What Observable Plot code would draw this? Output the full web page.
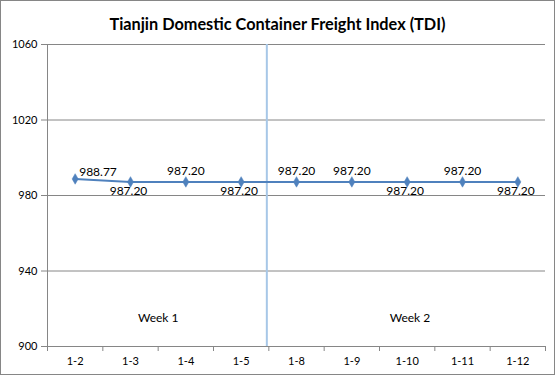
<!DOCTYPE html>
<html>
<head>
<meta charset="utf-8">
<script src="https://cdn.jsdelivr.net/npm/d3@7"></script>
<script src="https://cdn.jsdelivr.net/npm/@observablehq/plot@0.6"></script>
<style>
  html, body { margin: 0; padding: 0; background: #fff; }
  #wrap { width: 553px; height: 373px; border: 1px solid #868686; position: relative; overflow: hidden; font-family: Lato, "Open Sans", sans-serif; }
  #title { height: 34px; line-height: 45px; text-align: center; font-weight: bold; font-size: 16.3px; color: #000; }
  svg { display: block; }
</style>
</head>
<body>
<div id="wrap">
  <div id="title">Tianjin Domestic Container Freight Index (TDI)</div>
  <div id="chart"></div>
</div>
<script>
const dates = ["1-2", "1-3", "1-4", "1-5", "1-8", "1-9", "1-10", "1-11", "1-12"];
const values = [988.77, 987.20, 987.20, 987.20, 987.20, 987.20, 987.20, 987.20, 987.20];
const labelPlacement = ["right", "below", "above", "below", "above", "above", "below", "above", "below"];
const yTicks = [900, 940, 980, 1020, 1060];
const weeks = ["Week 1", "Week 2"];
const weekDays = [4, 5];

const data = dates.map((d, i) => ({date: d, i: i + 0.5, value: values[i], place: labelPlacement[i]}));
const weekBoundary = weekDays[0];
const weekLabels = weeks.map((w, k) => ({
  name: w,
  x: k === 0 ? weekBoundary / 2 : weekBoundary + weekDays[1] / 2 + 0.05
}));

const blue = "#4f81bd";
const grid = "#868686";

const chart = Plot.plot({
  width: 553,
  height: 339,
  marginTop: 9,
  marginBottom: 28,
  marginLeft: 46,
  marginRight: 9,
  style: {fontFamily: "Lato, 'Open Sans', sans-serif", color: "#000", background: "#fff"},
  x: {type: "linear", domain: [0, dates.length]},
  y: {domain: [yTicks[0], yTicks[yTicks.length - 1]]},
  marks: [
    Plot.gridY(yTicks, {stroke: grid, strokeOpacity: 1}),
    Plot.ruleX([0], {stroke: grid}),
    Plot.axisY(yTicks, {tickSize: 6, tickPadding: 4, fontSize: 11, stroke: grid, tickFormat: d => String(d), label: null}),
    Plot.axisX(d3.range(dates.length + 1), {tickSize: 5, stroke: grid, tickFormat: () => "", label: null}),
    Plot.axisX(data.map(d => d.i), {tickSize: 0, tickPadding: 11, fontSize: 11, tickFormat: v => dates[Math.round(v - 0.5)], label: null}),
    Plot.ruleX([weekBoundary], {y1: yTicks[0], y2: yTicks[yTicks.length - 1], stroke: "#a7c7e7", strokeWidth: 2, dx: -2}),
    Plot.line(data, {x: "i", y: "value", stroke: blue, strokeWidth: 2}),
    Plot.dot(data, {x: "i", y: "value", symbol: "diamond", r: 3.2, fill: blue, stroke: blue, strokeWidth: 0.5}),
    Plot.text(data.filter(d => d.place === "above"), {x: "i", y: "value", text: d => d.value.toFixed(2), dy: -11, fontSize: 12, fill: "#000"}),
    Plot.text(data.filter(d => d.place === "below"), {x: "i", y: "value", text: d => d.value.toFixed(2), dy: 9, dx: -2, fontSize: 12, fill: "#000"}),
    Plot.text(data.filter(d => d.place === "right"), {x: "i", y: "value", text: d => d.value.toFixed(2), dy: -7, dx: 4, textAnchor: "start", fontSize: 12, fill: "#000"}),
    Plot.text(weekLabels, {x: "x", y: () => 915, text: "name", fontSize: 12, fill: "#000"})
  ]
});
document.getElementById("chart").appendChild(chart);
</script>
</body>
</html>
